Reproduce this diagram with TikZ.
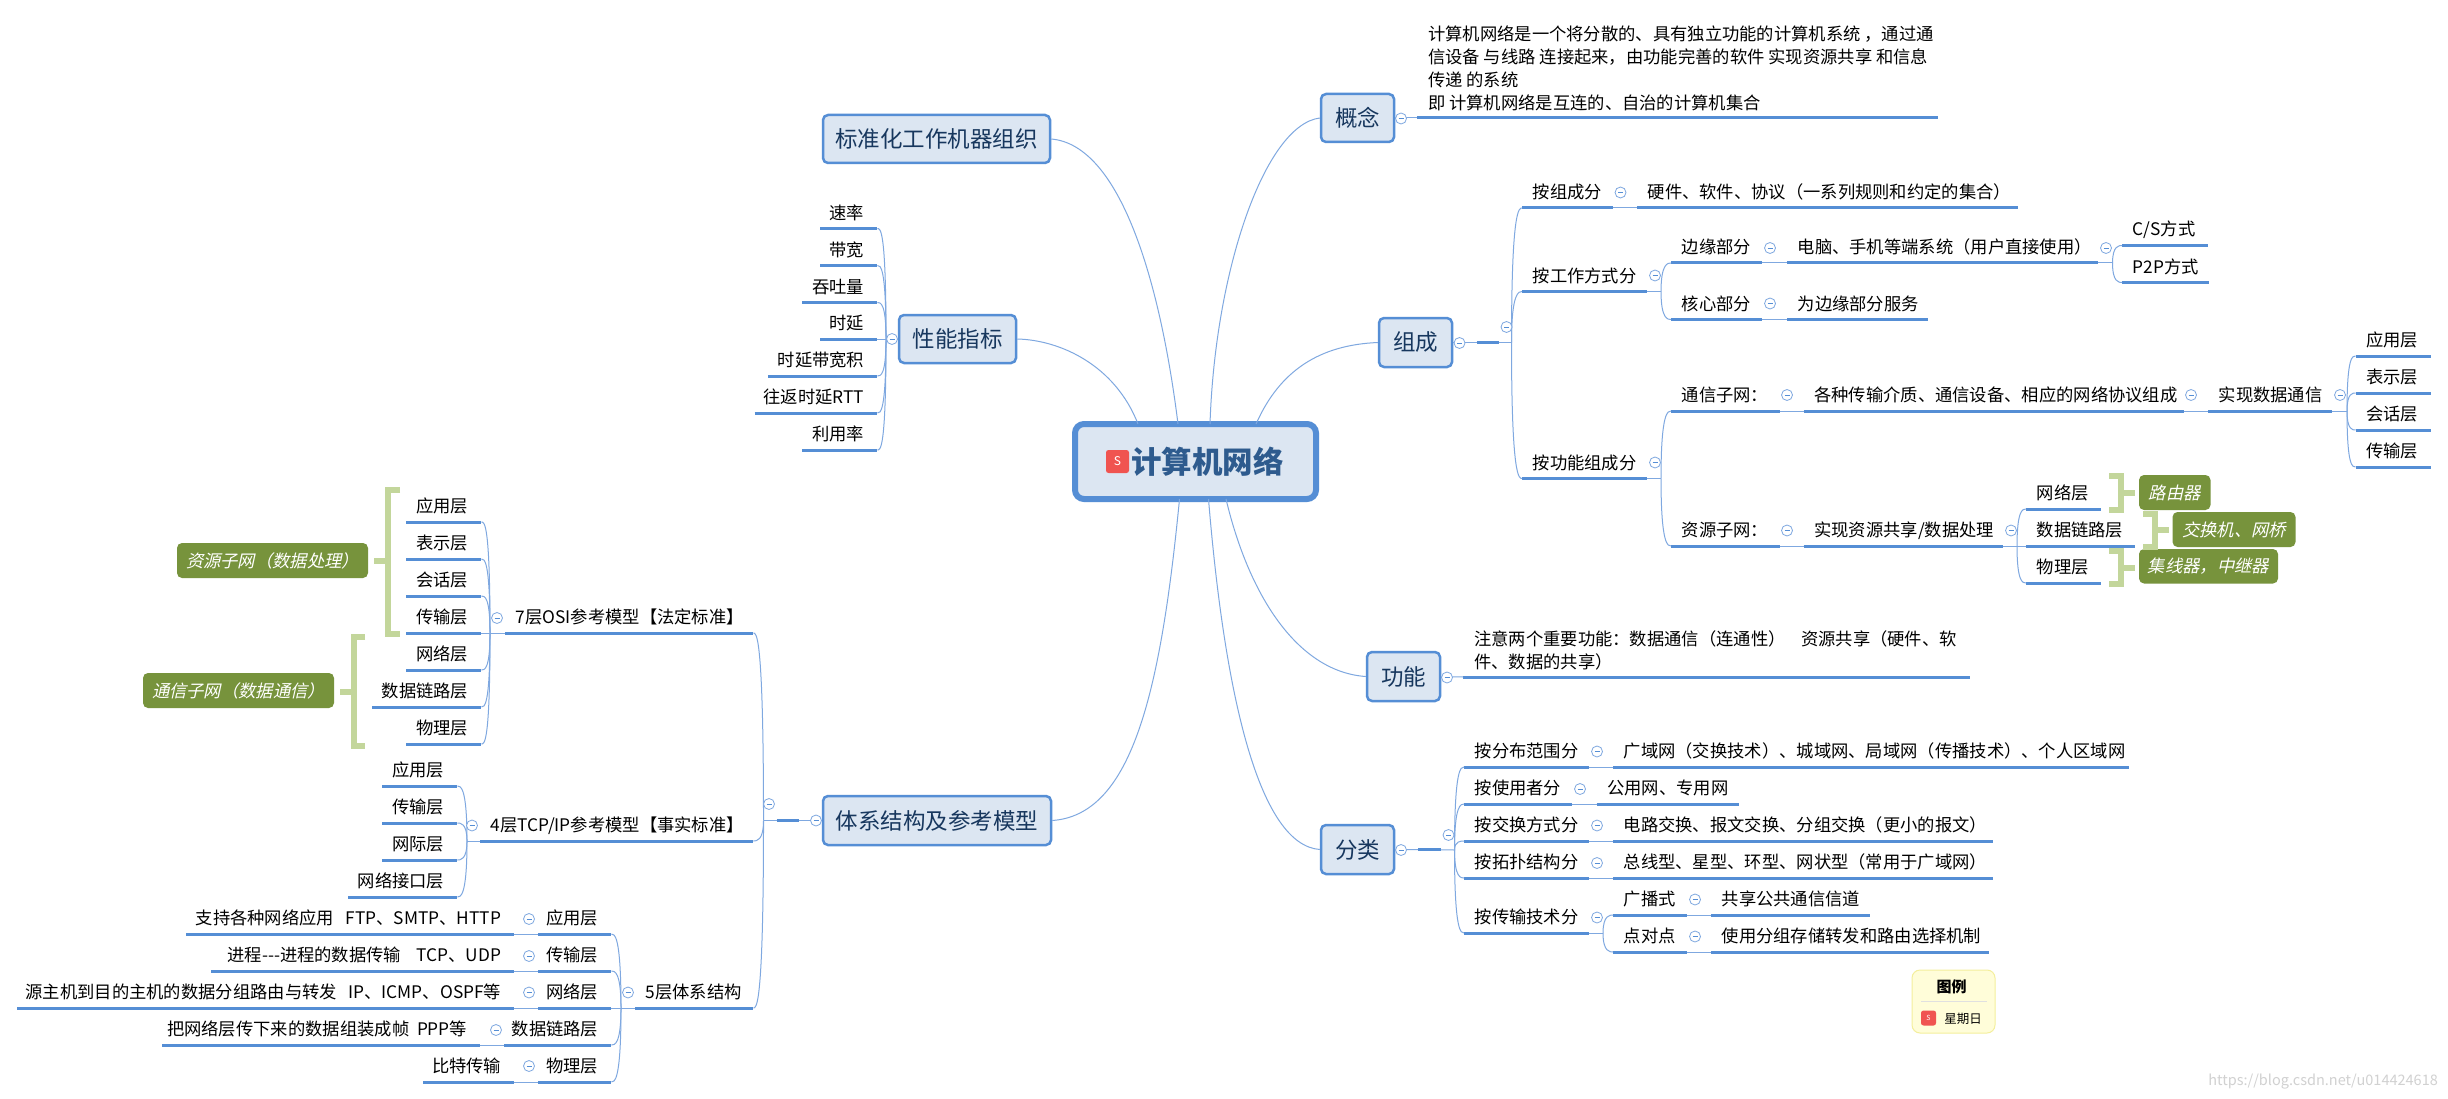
\documentclass[tikz,border=0pt]{standalone}
\usepackage{fontspec}
\setmainfont{Noto Sans CJK SC}
\newfontfamily\slantcjk[FakeSlant=0.22]{Noto Sans CJK SC}
\usetikzlibrary{calc}
\definecolor{lineblue}{HTML}{558ED5}
\definecolor{thinblue}{HTML}{7FA8E0}
\definecolor{boxfill}{HTML}{DCE6F2}
\definecolor{topictext}{HTML}{17375E}
\definecolor{roottext}{HTML}{2E5B8E}
\definecolor{greenbox}{HTML}{77933C}
\definecolor{greenbr}{HTML}{C3D69B}
\definecolor{iconred}{HTML}{F05450}
\tikzset{
  topic/.style={inner xsep=0pt,inner ysep=3pt,minimum height=31pt,anchor=south west,font=\fontsize{17.3}{23}\selectfont,text=black},
  ul/.style={draw=lineblue,line width=3pt},
  thinl/.style={draw=thinblue,line width=1pt},
  main/.style={draw=lineblue,line width=2.5pt,fill=boxfill,rounded corners=5pt,inner sep=0pt,text=topictext,font=\fontsize{22.5}{26}\selectfont},
  rootbox/.style={draw=lineblue,line width=6pt,fill=boxfill,rounded corners=9pt,inner sep=0pt},
  btn/.style={circle,draw=thinblue,fill=white,line width=.8pt,minimum size=11pt,inner sep=0pt,
    path picture={\draw[lineblue,line width=.8pt] ([xshift=-2.5pt]path picture bounding box.center) -- ([xshift=2.5pt]path picture bounding box.center);}},
  gbox/.style={fill=greenbox,rounded corners=5pt,inner sep=0pt,text=white,font=\slantcjk\fontsize{17.3}{23}\selectfont},
  gbr/.style={draw=greenbr,line width=6pt},
  icon/.style={fill=iconred,rounded corners=2.5pt,inner sep=0pt,text=white}
}
\newcounter{bc}
% right-side topic (left aligned)
\newcommand\tpR[5]{\node[topic] (#1) at (#2,#4) {\makebox[\dimexpr #3pt-#2pt\relax][l]{\hspace{10.5pt}#5}};
  \draw[ul] (#1.south west) -- (#1.south east);}
% left-side topic (right aligned)
\newcommand\tpL[5]{\node[topic] (#1) at (#2,#4) {\makebox[\dimexpr #3pt-#2pt\relax][r]{#5\hspace{13pt}}};
  \draw[ul] (#1.south west) -- (#1.south east);}
% multi-line topic
\newcommand\tpM[5]{\node[topic,inner ysep=1.5pt] (#1) at (#2,#4) {\makebox[\dimexpr #3pt-#2pt\relax][l]{\hspace{11pt}\begin{tabular}{@{}l@{}}#5\end{tabular}}};
  \draw[ul] (#1.south west) -- (#1.south east);}
\newcommand\mt[6]{\node[main,minimum width=\dimexpr #3pt-#2pt\relax,minimum height=\dimexpr #5pt-#4pt\relax] (#1) at ({(#2+#3)/2},{(#4+#5)/2}) {#6};}
\newcommand\btn[2]{\stepcounter{bc}\node[btn] (btn\arabic{bc}) at (#1,#2) {};}
% spines: hub coordinate -> child's line end
\newcommand\spL[2]{\draw[thinl] (#1) .. controls (#1 |- #2.south east) and ([xshift=3pt]#2.south east) .. (#2.south east);}
\newcommand\spR[2]{\draw[thinl] (#1) .. controls (#1 |- #2.south west) and ([xshift=-3pt]#2.south west) .. (#2.south west);}
\newcommand\lkR[2]{\draw[thinl] (#1.south east) -- (#2.south west);}
\newcommand\lkL[2]{\draw[thinl] (#1.south west) -- (#2.south east);}
\newcommand\gn[6]{\node[gbox,minimum width=\dimexpr #3pt-#2pt\relax,minimum height=\dimexpr #5pt-#4pt\relax] (#1) at ({(#2+#3)/2},{(#4+#5)/2}) {#6};}
\begin{document}
\begin{tikzpicture}[x=1pt,y=-1pt]
\useasboundingbox (0,0) rectangle (2448,1099);
\fill[white] (0,0) rectangle (2448,1099);
% root
\node[rootbox,minimum width=241pt,minimum height=75pt] (root) at (1195.5,461.5) {};
\node[icon,minimum width=23pt,minimum height=23pt,font=\fontsize{12}{14}\selectfont] (rooticon) at (1117.5,461.5) {S};
\node[inner sep=0pt,text=roottext,font=\bfseries\fontsize{30.5}{34}\selectfont] (rootlabel) at (1207.5,462) {计算机网络};
% main topics
\mt{std}{823}{1050}{115}{163}{标准化工作机器组织}
\mt{perf}{899}{1016}{315}{363}{性能指标}
\mt{sys}{823}{1051}{796}{845}{体系结构及参考模型}
\mt{idea}{1321}{1394}{94}{142}{概念}
\mt{comp}{1379}{1452}{318}{367}{组成}
\mt{func}{1367}{1440}{652}{701}{功能}
\mt{kind}{1321}{1394}{825}{874}{分类}
% root connectors
\draw[thinl] (std.east) .. controls (1120,145) and (1160,280) .. ([xshift=-17.5pt,yshift=-3pt]root.north);
\draw[thinl] (perf.east) .. controls (1060,340) and (1115,365) .. ([xshift=-57.5pt,yshift=-3pt]root.north);
\draw[thinl] (idea.west) .. controls (1265,125) and (1215,270) .. ([xshift=14.5pt,yshift=-3pt]root.north);
\draw[thinl] (comp.west) .. controls (1320,345) and (1280,370) .. ([xshift=60.5pt,yshift=-3pt]root.north);
\draw[thinl] (sys.east) .. controls (1130,815) and (1160,700) .. ([xshift=-16pt,yshift=3pt]root.south);
\draw[thinl] (kind.west) .. controls (1260,845) and (1225,700) .. ([xshift=13pt,yshift=3pt]root.south);
\draw[thinl] (func.west) .. controls (1300,672) and (1250,600) .. ([xshift=30.5pt,yshift=3pt]root.south);
% performance
\tpL{p1}{820}{877}{228.5}{速率}
\tpL{p2}{820}{877}{265.5}{带宽}
\tpL{p3}{802}{877}{302.5}{吞吐量}
\tpL{p4}{820}{877}{339}{时延}
\tpL{p5}{768}{877}{376}{时延带宽积}
\tpL{p6}{754.5}{877}{413}{往返时延RTT}
\tpL{p7}{802}{877}{450}{利用率}
\coordinate (hp) at (886,339);
\draw[thinl] (perf.west) -- (p4.south east);
\foreach \c in {p1,p2,p3,p5,p6,p7}{\spL{hp}{\c}}
% system: OSI
\coordinate (hs) at (763.5,820.5);
\tpR{osi}{505}{753}{633}{7层OSI参考模型【法定标准】}
\tpR{tcp}{480}{753}{841}{4层TCP/IP参考模型【事实标准】}
\tpR{five}{635}{753}{1008}{5层体系结构}
\draw[thinl] (sys.west) -- (hs);
\draw[ul] ([xshift=-45pt]sys.west) -- ([xshift=-23pt]sys.west);
\draw[thinl] (hs) .. controls (hs |- osi.south east) and ([xshift=3pt]osi.south east) .. (osi.south east);
\draw[thinl] (hs) .. controls (hs |- tcp.south east) and ([xshift=3pt]tcp.south east) .. (tcp.south east);
\draw[thinl] (hs) .. controls (hs |- five.south east) and ([xshift=3pt]five.south east) .. (five.south east);
\tpL{o1}{406}{481}{522}{应用层}
\tpL{o2}{406}{481}{559}{表示层}
\tpL{o3}{406}{481}{596}{会话层}
\tpL{o4}{406}{481}{633}{传输层}
\tpL{o5}{406}{481}{670}{网络层}
\tpL{o6}{372}{481}{707}{数据链路层}
\tpL{o7}{406}{481}{744}{物理层}
\coordinate (ho) at (490,633);
\draw[thinl] (osi.south west) -- (o4.south east);
\foreach \c in {o1,o2,o3,o5,o6,o7}{\spL{ho}{\c}}
\tpL{t1}{382}{457}{786}{应用层}
\tpL{t2}{382}{457}{823}{传输层}
\tpL{t3}{382}{457}{860}{网际层}
\tpL{t4}{348}{457}{897}{网络接口层}
\coordinate (ht) at (467,841);
\draw[thinl] (tcp.south west) -- (ht);
\foreach \c in {t1,t2,t3,t4}{\spL{ht}{\c}}
\tpL{f1}{538}{611}{934}{应用层}
\tpL{f2}{538}{611}{971}{传输层}
\tpL{f3}{538}{611}{1008}{网络层}
\tpL{f4}{504}{611}{1045}{数据链路层}
\tpL{f5}{538}{611}{1082}{物理层}
\coordinate (hf) at (621,1008);
\draw[thinl] (five.south west) -- (f3.south east);
\foreach \c in {f1,f2,f4,f5}{\spL{hf}{\c}}
\tpL{d1}{186}{514}{934}{支持各种网络应用\ \ \ FTP、SMTP、HTTP}
\tpL{d2}{211}{514}{971}{进程-{}-{}-进程的数据传输\ \ \ \ TCP、UDP}
\tpL{d3}{17}{514}{1008}{源主机到目的主机的数据分组路由与转发\ \ \ IP、ICMP、OSPF等}
\tpL{d4}{162}{480}{1045}{把网络层传下来的数据组装成帧\ \ PPP等}
\tpL{d5}{423}{514}{1082}{比特传输}
\lkL{f1}{d1}\lkL{f2}{d2}\lkL{f3}{d3}\lkL{f4}{d4}\lkL{f5}{d5}
% green notes left
\gn{g1}{177}{368}{543}{578}{资源子网（数据处理）}
\gn{g2}{143}{334}{673}{708}{通信子网（数据通信）}
\coordinate (ga) at (388,561);
\coordinate (gb) at (354,691.5);
\draw[gbr] (400,489.5) -- (388,489.5) -- (388,634) -- (400,634);
\draw[gbr] (374,561) -- (ga);
\draw[gbr] (365,637) -- (354,637) -- (354,745.5) -- (365,745.5);
\draw[gbr] (340,691.5) -- (gb);
% concept
\tpM{c1}{1417}{1938}{118}{计算机网络是一个将分散的、具有独立功能的计算机系统 ，通过通\\信设备 与线路 连接起来，由功能完善的软件 实现资源共享 和信息\\传递 的系统\\即 计算机网络是互连的、自治的计算机集合}
\draw[thinl] (idea.east) -- (c1.south west);
% composition
\coordinate (hc) at (1511.5,342.5);
\draw[thinl] (comp.east) -- (hc);
\draw[ul] ([xshift=23.5pt]comp.east) -- ([xshift=45.5pt]comp.east);
\tpR{k1}{1522}{1613}{208}{按组成分}
\tpR{k2}{1522}{1647}{291.5}{按工作方式分}
\tpR{k3}{1522}{1647}{478.5}{按功能组成分}
\foreach \c in {k1,k2,k3}{\spR{hc}{\c}}
\tpR{k1a}{1637}{2017.5}{208}{硬件、软件、协议（一系列规则和约定的集合）}
\lkR{k1}{k1a}
\tpR{w1}{1671}{1762}{263}{边缘部分}
\tpR{w2}{1671}{1762}{319.5}{核心部分}
\coordinate (hw) at (1661,291.5);
\draw[thinl] (k2.south east) -- (hw);
\foreach \c in {w1,w2}{\spR{hw}{\c}}
\tpR{w1a}{1787}{2098}{263}{电脑、手机等端系统（用户直接使用）}
\tpR{w2a}{1787}{1928}{319.5}{为边缘部分服务}
\lkR{w1}{w1a}\lkR{w2}{w2a}
\tpR{cs}{2122}{2208}{245.5}{C/S方式}
\tpR{pp}{2122}{2209}{282.5}{P2P方式}
\coordinate (hw2) at (2112.5,263);
\draw[thinl] (w1a.south east) -- (hw2);
\foreach \c in {cs,pp}{\spR{hw2}{\c}}
\tpR{n1}{1671}{1779.5}{411}{通信子网：}
\tpR{n2}{1671}{1779.5}{546}{资源子网：}
\coordinate (hn) at (1661,478.5);
\draw[thinl] (k3.south east) -- (hn);
\foreach \c in {n1,n2}{\spR{hn}{\c}}
\tpR{n1a}{1803.5}{2183.5}{411}{各种传输介质、通信设备、相应的网络协议组成}
\tpR{n1b}{2208}{2332}{411}{实现数据通信}
\lkR{n1}{n1a}\lkR{n1a}{n1b}
\tpR{s1}{2355.5}{2431}{356}{应用层}
\tpR{s2}{2355.5}{2431}{393}{表示层}
\tpR{s3}{2355.5}{2431}{430}{会话层}
\tpR{s4}{2355.5}{2431}{467}{传输层}
\coordinate (hn1) at (2347,411);
\draw[thinl] (n1b.south east) -- (hn1);
\foreach \c in {s1,s2,s3,s4}{\spR{hn1}{\c}}
\tpR{n2a}{1803.5}{2003}{546}{实现资源共享/数据处理}
\lkR{n2}{n2a}
\tpR{r1}{2026}{2101}{509}{网络层}
\tpR{r2}{2026}{2134.5}{546}{数据链路层}
\tpR{r3}{2026}{2101}{583}{物理层}
\coordinate (hn2) at (2017,546);
\draw[thinl] (n2a.south east) -- (r2.south west);
\foreach \c in {r1,r3}{\spR{hn2}{\c}}
\gn{g3}{2139}{2210.5}{475}{510}{路由器}
\gn{g4}{2172.5}{2295.5}{512}{547}{交换机、网桥}
\gn{g5}{2139}{2278}{549}{583.5}{集线器，中继器}
\draw[gbr] (2109,476) -- (2120.5,476) -- (2120.5,510) -- (2109,510);
\draw[gbr] (2120.5,493) -- (2134.5,493);
\draw[gbr] (2143,514) -- (2155,514) -- (2155,547) -- (2143,547);
\draw[gbr] (2155,530) -- (2169,530);
\draw[gbr] (2109,551) -- (2120.5,551) -- (2120.5,584) -- (2109,584);
\draw[gbr] (2120.5,568) -- (2134.5,568);
% function
\tpM{fn}{1463}{1970}{677}{注意两个重要功能：数据通信（连通性）\ \ \ \ 资源共享（硬件、软\\件、数据的共享）}
\draw[thinl] (func.east) -- (fn.south west);
% classification
\coordinate (hk) at (1454.5,850);
\draw[thinl] (kind.east) -- (hk);
\draw[ul] ([xshift=23pt]kind.east) -- ([xshift=46pt]kind.east);
\tpR{a1}{1464}{1589}{767}{按分布范围分}
\tpR{a2}{1464}{1572}{804}{按使用者分}
\tpR{a3}{1464}{1589}{841}{按交换方式分}
\tpR{a4}{1464}{1589}{878}{按拓扑结构分}
\tpR{a5}{1464}{1589}{933}{按传输技术分}
\foreach \c in {a1,a2,a3,a4,a5}{\spR{hk}{\c}}
\tpR{a1x}{1613}{2129}{767}{广域网（交换技术）、城域网、局域网（传播技术）、个人区域网}
\tpR{a2x}{1596.5}{1739}{804}{公用网、专用网}
\tpR{a3x}{1613}{1993}{841}{电路交换、报文交换、分组交换（更小的报文）}
\tpR{a4x}{1613}{1993}{878}{总线型、星型、环型、网状型（常用于广域网）}
\lkR{a1}{a1x}\lkR{a2}{a2x}\lkR{a3}{a3x}\lkR{a4}{a4x}
\tpR{b1}{1613}{1687}{915}{广播式}
\tpR{b2}{1613}{1687}{952}{点对点}
\coordinate (hb) at (1603,933);
\draw[thinl] (a5.south east) -- (hb);
\foreach \c in {b1,b2}{\spR{hb}{\c}}
\tpR{b1x}{1711}{1870}{915}{共享公共通信信道}
\tpR{b2x}{1711}{1989}{952}{使用分组存储转发和路由选择机制}
\lkR{b1}{b1x}\lkR{b2}{b2x}
% buttons
\btn{892}{339}
\btn{497}{618}\btn{472}{825.5}\btn{628}{992.5}\btn{769}{804}\btn{816}{820.5}
\btn{529}{919}\btn{529}{956}\btn{529}{992.5}\btn{496}{1030}\btn{529}{1066}
\btn{1401}{118.5}\btn{1459.5}{343}\btn{1506.5}{327}
\btn{1620.5}{192.5}\btn{1655}{275.5}\btn{1770}{248}\btn{2106}{248}\btn{1770}{303.5}
\btn{1655}{462.5}\btn{1787}{395}\btn{2191}{395}\btn{2340}{395}\btn{1787}{530.5}\btn{2011}{530.5}
\btn{1447}{677.5}\btn{1401}{850}\btn{1448.5}{835}
\btn{1597}{751.5}\btn{1580}{789}\btn{1597}{825.5}\btn{1597}{863}\btn{1597}{917.5}
\btn{1695}{899.5}\btn{1695}{936.5}
% legend
\node[draw=yellow!40!white!90!gray,fill=yellow!15,line width=1pt,rounded corners=8pt,minimum width=83pt,minimum height=63pt,inner sep=0pt] (legend) at (1953.5,1001.5) {};
\node[inner sep=0pt,font=\bfseries\fontsize{15}{17}\selectfont] (legtitle) at (1951.5,987) {图例};
\coordinate (lsa) at (1921,1001);
\coordinate (lsb) at (1987,1001);
\draw[black!12,line width=.8pt] (lsa) -- (lsb);
\node[icon,minimum width=15pt,minimum height=15pt,font=\fontsize{7}{8}\selectfont] (legicon) at (1928.5,1018) {S};
\node[inner sep=0pt,font=\fontsize{12.5}{14}\selectfont] (legtext) at (1963,1019) {星期日};
% watermark
\node[inner sep=0pt,anchor=east,text=black!18,font=\fontsize{14.5}{16}\selectfont] (wm) at (2438,1082) {https://blog.csdn.net/u014424618};
\end{tikzpicture}
\end{document}
